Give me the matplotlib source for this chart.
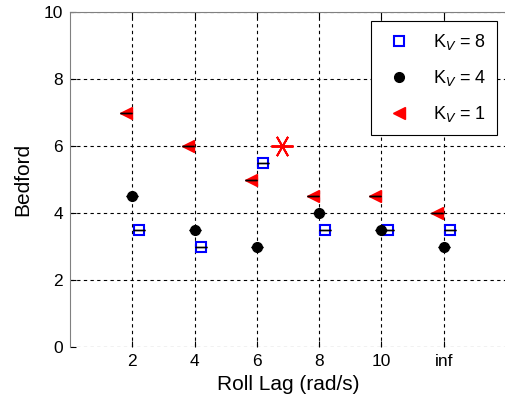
import matplotlib
matplotlib.use('Agg')
import matplotlib.pyplot as plt

plt.rcParams['font.family'] = ['Liberation Sans', 'DejaVu Sans']

tick_pos = [2, 4, 6, 8, 10, 12]
tick_labels = ['2', '4', '6', '8', '10', 'inf']

# Kv = 8 (blue squares), Kv = 4 (black dots), Kv = 1 (red triangles)
x_kv8 = [2.2, 4.2, 6.2, 8.2, 10.2, 12.2]
y_kv8 = [3.5, 3.0, 5.5, 3.5, 3.5, 3.5]
x_kv4 = [2.0, 4.0, 6.0, 8.0, 10.0, 12.0]
y_kv4 = [4.5, 3.5, 3.0, 4.0, 3.5, 3.0]
x_kv1 = [1.8, 3.8, 5.8, 7.8, 9.8, 11.8]
y_kv1 = [7.0, 6.0, 5.0, 4.5, 4.5, 4.0]
star_x = [6.8]
star_y = [6.0]

fig = plt.figure(figsize=(5.06, 4.05), dpi=100)
ax = fig.add_axes([70/506, 58/405, 1 - 70/506, 335/405])

ax.plot(x_kv8, y_kv8, 's', mfc='none', mec='blue', mew=1.5, ms=7, label='K$_V$ = 8')
ax.plot(x_kv4, y_kv4, 'o', color='black', ms=7, label='K$_V$ = 4')
ax.plot(x_kv1, y_kv1, '<', color='red', ms=8, label='K$_V$ = 1')
# zero-length error bars drawn as little black dashes
for xs, ys in [(x_kv8, y_kv8), (x_kv4, y_kv4), (x_kv1, y_kv1)]:
    ax.errorbar(xs, ys, yerr=[0]*len(ys), fmt='none', ecolor='black', capsize=4, elinewidth=1)
ax.plot(star_x, star_y, marker=(6, 2, 30), color='red', ms=16, mew=1.4, ls='none')

ax.set_xlim(0, 14)
ax.set_ylim(0, 10)
ax.set_xticks(tick_pos)
ax.set_xticklabels(tick_labels)
ax.set_yticks([0, 2, 4, 6, 8, 10])
ax.tick_params(direction='in', labelsize=12.5, length=4, top=True, pad=5)
ax.grid(True, color='black', linestyle=(0, (3, 3)), linewidth=0.8)
ax.set_axisbelow(True)
ax.spines['left'].set_color('gray')
ax.spines['top'].set_color('gray')
ax.spines['right'].set_visible(False)
ax.spines['bottom'].set_visible(False)

ax.set_xlabel('Roll Lag (rad/s)', fontsize=15, labelpad=4)
ax.set_ylabel('Bedford', fontsize=15, labelpad=8)

leg = ax.legend(loc='upper right', fontsize=13, fancybox=False, edgecolor='black',
                framealpha=1, borderaxespad=0.5, labelspacing=0.9, handletextpad=1.0,
                handlelength=1.8, borderpad=0.6)
leg.get_frame().set_linewidth(0.8)

fig.savefig('out.png', dpi=100)
